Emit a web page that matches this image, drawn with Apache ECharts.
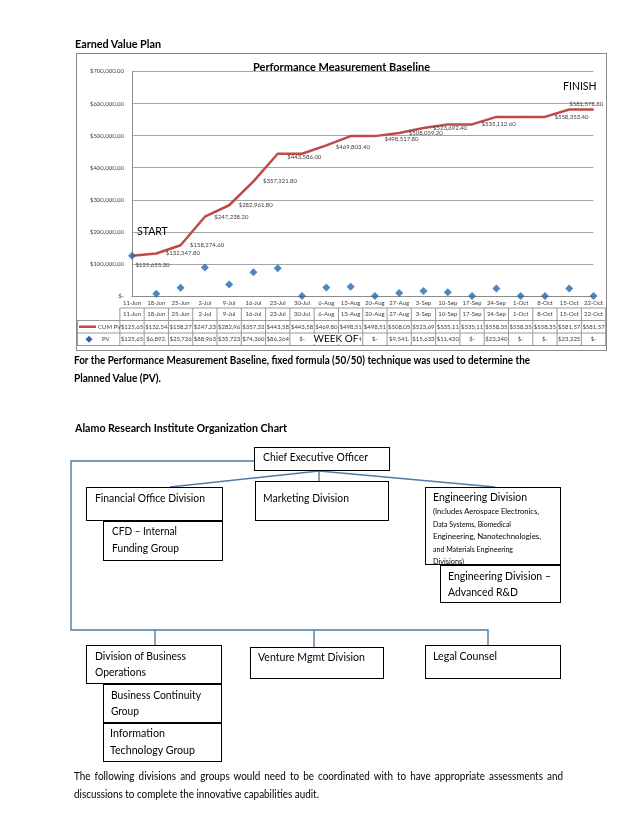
<!DOCTYPE html>
<html><head><meta charset="utf-8">
<script src="https://cdn.jsdelivr.net/npm/echarts/dist/echarts.min.js"></script>
<style>
body{margin:0;width:638px;height:826px;position:relative;background:#fff;font-family:Lato,'Open Sans',sans-serif;color:#000;overflow:hidden}
.t{position:absolute;white-space:nowrap;line-height:1;transform-origin:0 50%}
.box{position:absolute;box-sizing:border-box;border:1.4px solid #000;background:#fff;overflow:hidden}
#frame{position:absolute;left:76px;top:53px;width:531px;height:298px;box-sizing:border-box;border:1px solid #8a8a8a;pointer-events:none;z-index:5}
#chart{position:absolute;left:77px;top:54px;width:529px;height:296px}
svg{position:absolute;left:0;top:0}
</style></head><body>
<div id="chart"></div><div id="frame"></div>
<svg width="638" height="826" id="lines"></svg>
<script>
// ---------- data ----------
const categories = ['11-Jun','18-Jun','25-Jun','2-Jul','9-Jul','16-Jul','23-Jul','30-Jul','6-Aug','13-Aug','20-Aug','27-Aug','3-Sep','10-Sep','17-Sep','24-Sep','1-Oct','8-Oct','15-Oct','22-Oct'];
const cumPV = [125655.20,132547.80,158274.60,247238.20,282961.80,357321.80,443586.00,443586.00,469803.40,498517.80,498517.80,508059.20,523692.40,535112.60,535112.60,558353.40,558353.40,558353.40,581578.80,581578.80];
const pv = [125655.20,6892.60,25726.80,88963.60,35723.60,74360.00,86264.20,0,26217.40,28714.40,0,9541.40,15633.20,11420.20,0,23240.80,0,0,23225.40,0];
const yMin = 0, yMax = 700000, yStep = 100000;
const seriesNames = ['CUM PV','PV'];

// ---------- style config ----------
const FONT = 'Lato';
const RED = '#BE4B48', BLUE = '#2767B0';
const labelCfg = {0:{distance:3,offset:[0,9]},1:{},2:{},3:{},4:{},5:{},6:{offset:[0,3]},8:{offset:[0,2]},10:{offset:[0,3]},11:{},12:{},14:{},17:{},18:{position:'top',distance:3,offset:[17,1]}};

const money2 = v => v === 0 ? '$-' : '$' + v.toLocaleString('en-US',{minimumFractionDigits:2,maximumFractionDigits:2});
const cell = v => money2(v).slice(0,7);

const chart = echarts.init(document.getElementById('chart'));
const cumData = cumPV.map((v,i)=>{
  const c = labelCfg[i];
  if(!c) return v;
  return {value:v,label:Object.assign({show:true},c)};
});
chart.setOption({
  animation:false,
  title:{text:'Performance Measurement Baseline',left:'center',top:3,textStyle:{fontFamily:FONT,fontSize:11,fontWeight:'bold',color:'#000'}},
  grid:{left:55,right:2,top:17.5,bottom:54},
  xAxis:{type:'category',data:categories,boundaryGap:false,
    axisLine:{lineStyle:{color:'#8c8c8c'}},axisTick:{show:false},
    axisLabel:{fontFamily:FONT,fontSize:6,color:'#404040',margin:4,interval:0}},
  yAxis:{type:'value',min:yMin,max:yMax,interval:yStep,
    axisLine:{show:true,lineStyle:{color:'#8c8c8c'}},axisTick:{show:false},
    splitLine:{lineStyle:{color:'#a6a6a6'}},
    axisLabel:{fontFamily:FONT,fontSize:6,color:'#404040',margin:8,formatter:money2}},
  series:[
    {type:'line',name:seriesNames[0],data:cumData,symbol:'circle',symbolSize:1,showSymbol:true,
      lineStyle:{color:RED,width:2.5},itemStyle:{color:RED},z:2,
      label:{show:false,position:'right',distance:9,fontFamily:FONT,fontSize:6,color:'#404040',formatter:p=>money2(p.value)}},
    {type:'scatter',name:seriesNames[1],data:pv,symbol:'diamond',symbolSize:8,itemStyle:{color:BLUE},z:3}
  ]
});

// data table + text boxes
const px = categories.map((c,i)=>chart.convertToPixel({xAxisIndex:0},i));
const step = px[1]-px[0];
const W = 529;
const R = [254,266.5,279,291.5];
const g = [];
const gl = '#9a9a9a';
const hline=(x1,x2,y)=>g.push({type:'line',shape:{x1,y1:y,x2,y2:y},style:{stroke:gl,lineWidth:1},z:10});
const vline=(x,y1,y2)=>g.push({type:'line',shape:{x1:x,y1,x2:x,y2},style:{stroke:gl,lineWidth:1},z:10});
const x0 = px[0]-step/2;
hline(x0,W,R[0]); hline(0,W,R[1]); hline(0,W,R[2]); hline(0,W,R[3]);
for(let k=0;k<=categories.length;k++) vline(x0+k*step,R[0],R[3]);
vline(0.5,R[1],R[3]);
const rowText=(arr,row)=>arr.forEach((s,i)=>g.push({type:'text',x:px[i],y:(R[row]+R[row+1])/2,z:11,
  style:{text:s,align:'center',verticalAlign:'middle',fontFamily:FONT,fontSize:6,fill:'#404040'}}));
rowText(categories,0);
rowText(cumPV.map(cell),1);
rowText(pv.map(cell),2);
// legend keys
const ly1=(R[1]+R[2])/2, ly2=(R[2]+R[3])/2;
g.push({type:'line',shape:{x1:2,y1:ly1,x2:19,y2:ly1},style:{stroke:RED,lineWidth:2.5},z:11});
g.push({type:'text',x:21,y:ly1,z:11,style:{text:seriesNames[0],verticalAlign:'middle',fontFamily:FONT,fontSize:6,fill:'#404040'}});
g.push({type:'polygon',shape:{points:[[12,ly2-3.5],[15.5,ly2],[12,ly2+3.5],[8.5,ly2]]},style:{fill:BLUE},z:11});
g.push({type:'text',x:25,y:ly2,z:11,style:{text:seriesNames[1],verticalAlign:'middle',fontFamily:FONT,fontSize:6,fill:'#404040'}});
// START / FINISH / axis title
g.push({type:'text',x:60,y:178,z:12,style:{text:'START',verticalAlign:'middle',fontFamily:FONT,fontSize:10.5,fill:'#000'}});
g.push({type:'text',x:486,y:33,z:12,style:{text:'FINISH',verticalAlign:'middle',fontFamily:FONT,fontSize:10.5,fill:'#000'}});
g.push({type:'text',x:259,y:285,z:12,style:{text:'WEEK OF',align:'center',verticalAlign:'middle',fontFamily:FONT,fontSize:10,fill:'#000',backgroundColor:'#fff',padding:[0,1]}});
chart.setOption({graphic:g});

// ---------- document text ----------
function T(txt,x,cy,size,o){
  o=o||{};
  const d=document.createElement('div');
  d.className='t'; d.textContent=txt;
  d.style.left=x+'px'; d.style.top=(cy-size*0.55)+'px'; d.style.fontSize=size+'px';
  if(o.bold) d.style.fontWeight='bold';
  (o.parent||document.body).appendChild(d);
  if(o.w){const n=d.getBoundingClientRect().width; d.style.transform='scaleX('+(o.w/n)+')';}
  return d;
}
T('Earned Value Plan',75,44,11,{bold:true,w:86});
T('For the Performance Measurement Baseline, fixed formula (50/50) technique was used to determine the',74,360,11,{bold:true,w:456});
T('Planned Value (PV).',74,378,11,{bold:true,w:87});
T('Alamo Research Institute Organization Chart',75,428,11,{bold:true,w:212});
// paragraph 2
const l2=T('discussions to complete the innovative capabilities audit.',74,795,10.5,{w:245});
const s2=parseFloat(l2.style.transform.replace('scaleX(',''));
const l1=T('The following divisions and groups would need to be coordinated with to have appropriate assessments and',74,777,10.5);
{const n=l1.getBoundingClientRect().width; const sp=(l1.textContent.match(/ /g)||[]).length;
 l1.style.wordSpacing=((489/s2-n)/sp)+'px'; l1.style.transform='scaleX('+s2+')';}

// ---------- org chart ----------
const boxes=[
 {l:254,t:447,r:390,b:471,lines:[['Chief Executive Officer',263,458,10.5,105]]},
 {l:86,t:487,r:223,b:521,lines:[['Financial Office Division',95,499,10.5,110]]},
 {l:103,t:521,r:223,b:561,lines:[['CFD \u2013 Internal',112,532,10.5,65],['Funding Group',112,549,10.5,67]]},
 {l:255,t:481,r:389,b:521,lines:[['Marketing Division',263,499,10.5,86]]},
 {l:425,t:487,r:561,b:565,lines:[['Engineering Division',433,498,10.5,94],
   ['(Includes Aerospace Electronics,',433,513,7.5,106],['Data Systems, Biomedical',433,525.5,7.5,78],
   ['Engineering, Nanotechnologies,',433,538,7.5,108],['and Materials Engineering',433,550.5,7.5,80],
   ['Divisions)',433,563,7.5,31]]},
 {l:440,t:565,r:561,b:603,lines:[['Engineering Division \u2013',448,577,10.5,103],['Advanced R&D',448,593,10.5,70]]},
 {l:86,t:645,r:222,b:684,lines:[['Division of Business',95,657,10.5,91],['Operations',95,673,10.5,51]]},
 {l:103,t:684,r:222,b:723,lines:[['Business Continuity',111,696,10.5,90],['Group',111,712,10.5,28]]},
 {l:103,t:723,r:222,b:762,lines:[['Information',110,734,10.5,55],['Technology Group',110,751,10.5,85]]},
 {l:250,t:647,r:384,b:679,lines:[['Venture Mgmt Division',258,658,10.5,107]]},
 {l:425,t:645,r:561,b:679,lines:[['Legal Counsel',433,657,10.5,64]]}
];
const svg=document.getElementById('lines');
const segs=[
 'M254,461 L71,461 L71,630 L488,630 L488,645',
 'M155,630 L155,645','M314,630 L314,647',
 'M319,471 L319,481','M319,471 L170,487','M319,471 L495,487'
];
svg.innerHTML=segs.map(d=>'<path d="'+d+'" fill="none" stroke="#4E7BA8" stroke-width="1.4"/>').join('');
boxes.forEach(b=>{
  const d=document.createElement('div'); d.className='box';
  d.style.left=b.l+'px'; d.style.top=b.t+'px'; d.style.width=(b.r-b.l)+'px'; d.style.height=(b.b-b.t)+'px';
  document.body.appendChild(d);
  b.lines.forEach(L=>T(L[0],L[1]-b.l-1.4,L[2]-b.t-1.4,L[3],{w:L[4],parent:d}));
});
</script>
</body></html>
